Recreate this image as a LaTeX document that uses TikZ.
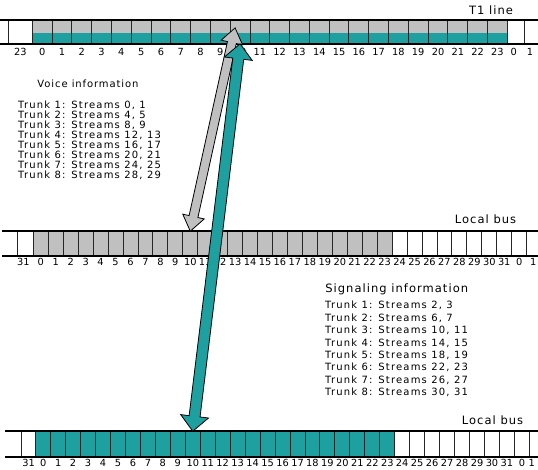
\documentclass[tikz,border=0pt]{standalone}
\usepackage{fontspec}
\setmainfont{DejaVu Sans}
\newfontfamily\spacedfont[LetterSpace=9]{DejaVu Sans}
\newfontfamily\listfont[LetterSpace=12]{DejaVu Sans}
\usetikzlibrary{calc}

\definecolor{slotgray}{HTML}{C0C0C0}
\definecolor{slotteal}{HTML}{1FA0A0}

% double headed block arrow: style, from, to, shaft half width, head half width
\newcommand{\streamarrow}[5]{%
  \draw[#1] (#2)
    -- ($(#2)!15pt!(#3)!#5!90:(#3)$)
    -- ($(#2)!15pt!(#3)!#4!90:(#3)$)
    -- ($(#3)!15pt!(#2)!#4!-90:(#2)$)
    -- ($(#3)!15pt!(#2)!#5!-90:(#2)$)
    -- (#3)
    -- ($(#3)!15pt!(#2)!#5!90:(#2)$)
    -- ($(#3)!15pt!(#2)!#4!90:(#2)$)
    -- ($(#2)!15pt!(#3)!#4!-90:(#3)$)
    -- ($(#2)!15pt!(#3)!#5!-90:(#3)$)
    -- cycle;}

\begin{document}
\begin{tikzpicture}[x=1pt, y=-1pt,
  rail/.style={line width=2pt},
  slot/.style={draw=black!85, line width=0.9pt, inner sep=0pt, outer sep=0pt},
  t1slot/.style={slot, minimum width=19.79pt, minimum height=23.8pt, fill=slotteal,
    path picture={\fill[slotgray] (path picture bounding box.north west)
      rectangle ([yshift=-1.6pt]path picture bounding box.east);}},
  slotnum/.style={font=\fontsize{9.8}{11}\selectfont, inner sep=0pt, below=1.5pt},
  heading/.style={font=\spacedfont\fontsize{11.5}{12}\selectfont, inner sep=0pt},
  trunklist/.style={font=\listfont\fontsize{10}{10}\selectfont, inner sep=0pt, align=left, anchor=west},
  voicearrow/.style={draw=black, line width=0.8pt, fill=slotgray},
  sigarrow/.style={draw=black, line width=0.8pt, fill=slotteal},
]
\useasboundingbox (0,0) rectangle (538,470);

% T1 line
\node[slot, minimum width=24pt, minimum height=23.8pt] (t1-pre) at (20.3,31.9) {};
\foreach \i in {0,...,23}
  \node[t1slot] (t1-\i) at (42.2+19.79*\i, 31.9) {};
\node[slot, minimum width=16.7pt, minimum height=23.8pt] (t1-post0) at (515.65,31.9) {};
\node[slot, minimum width=20pt, minimum height=23.8pt] (t1-post1) at (534,31.9) {};
\draw[rail] (0,20) -- (538,20);
\draw[rail] (0,43.8) -- (538,43.8);
\node[slotnum, below=2.5pt] (t1n-pre) at (t1-pre.south) {23};
\foreach \i in {0,...,23}
  \node[slotnum, below=2.5pt] (t1n-\i) at (t1-\i.south) {\i};
\node[slotnum, below=2.5pt, xshift=-2pt] (t1n-post0) at (t1-post0.south) {0};
\node[slotnum, below=2.5pt, xshift=-4pt] (t1n-post1) at (t1-post1.south) {1};
\node[heading] (t1title) at (491,10) {T1 line};

% local bus, voice
\node[slot, minimum width=16pt, minimum height=25.1pt] (busA-pre) at (25.3,243.75) {};
\foreach \i in {0,...,23}
  \node[slot, fill=slotgray, minimum width=14.95pt, minimum height=25.1pt] (busA-\i) at (40.78+14.95*\i, 243.75) {};
\foreach \i in {24,...,33}
  \node[slot, minimum width=14.95pt, minimum height=25.1pt] (busA-\i) at (40.78+14.95*\i, 243.75) {};
\draw[rail] (2,231.2) -- (538,231.2);
\draw[rail] (2,256.3) -- (538,256.3);
\node[slotnum, xshift=-2pt] (busAn-pre) at (busA-pre.south) {31};
\foreach \i [evaluate=\i as \n using {int(mod(\i,32))}] in {0,...,32}
  \node[slotnum] (busAn-\i) at (busA-\i.south) {\n};
\node[slotnum, xshift=-1pt] (busAn-33) at (busA-33.south) {1};
\node[heading] (busAtitle) at (485.5,219) {Local bus};

% local bus, signaling
\node[slot, minimum width=14pt, minimum height=25.8pt] (busB-pre) at (28.7,444.1) {};
\foreach \i in {0,...,23}
  \node[slot, fill=slotteal, minimum width=14.96pt, minimum height=25.8pt] (busB-\i) at (43.18+14.96*\i, 444.1) {};
\foreach \i in {24,...,33}
  \node[slot, minimum width=14.96pt, minimum height=25.8pt] (busB-\i) at (43.18+14.96*\i, 444.1) {};
\draw[rail] (5,431.2) -- (538,431.2);
\draw[rail] (5,457) -- (538,457);
\node[slotnum, below=0.5pt] (busBn-pre) at (busB-pre.south) {31};
\foreach \i [evaluate=\i as \n using {int(mod(\i,32))}] in {0,...,32}
  \node[slotnum, below=0.5pt] (busBn-\i) at (busB-\i.south) {\n};
\node[slotnum, below=0.5pt, xshift=-5pt] (busBn-33) at (busB-33.south) {1};
\node[heading] (busBtitle) at (492.5,420) {Local bus};

% stream lists
\node[heading, font=\spacedfont\fontsize{10}{12}\selectfont] (voicetitle) at (88,84) {Voice information};
\node[trunklist] (voicelist) at (18,140) {Trunk 1: Streams 0, 1\\Trunk 2: Streams 4, 5\\
  Trunk 3: Streams 8, 9\\Trunk 4: Streams 12, 13\\Trunk 5: Streams 16, 17\\
  Trunk 6: Streams 20, 21\\Trunk 7: Streams 24, 25\\Trunk 8: Streams 28, 29};
\node[heading] (sigtitle) at (396.7,289) {Signaling information};
\node[trunklist, font=\listfont\fontsize{10}{12.4}\selectfont] (siglist) at (325,349) {Trunk 1: Streams 2, 3\\Trunk 2: Streams 6, 7\\
  Trunk 3: Streams 10, 11\\Trunk 4: Streams 14, 15\\Trunk 5: Streams 18, 19\\
  Trunk 6: Streams 22, 23\\Trunk 7: Streams 26, 27\\Trunk 8: Streams 30, 31};

% mapping arrows
\coordinate (voicetip) at ($(t1-10.center)+(-5,-4)$);
\streamarrow{voicearrow}{voicetip}{busA-10.north}{4.5pt}{11pt}
\streamarrow{sigarrow}{t1-10.south}{busB-10.north}{5.5pt}{14pt}

\end{tikzpicture}
\end{document}
